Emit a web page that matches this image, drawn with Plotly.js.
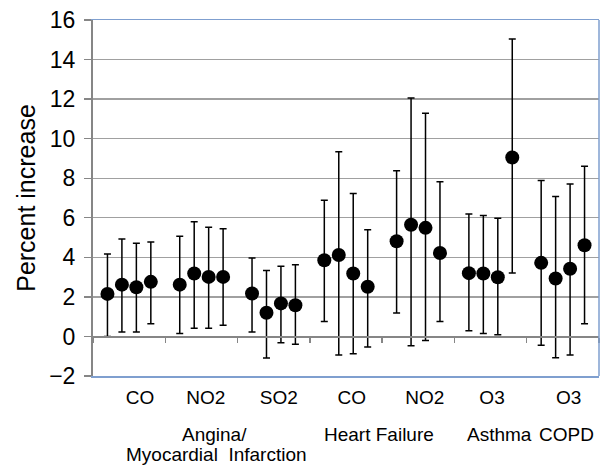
<!DOCTYPE html>
<html>
<head>
<meta charset="utf-8">
<script src="https://cdn.plot.ly/plotly-3.0.1.min.js"></script>
<style>html,body{margin:0;padding:0;background:#fff;}#chart{width:602px;height:466px;}</style>
</head>
<body>
<div id="chart"></div>
<script>
// Pollutant categories (x-axis labels)
var pollutants = ["CO", "NO2", "SO2", "CO", "NO2", "O3", "O3"];
// Outcome group labels
var outcomes = ["Angina/", "Myocardial  Infarction", "Heart Failure", "Asthma", "COPD"];
// Four estimates per category (percent increase), with lower / upper CI
var estimate = [
  2.15, 2.62, 2.49, 2.76,
  2.62, 3.18, 3.01, 3.01,
  2.17, 1.20, 1.67, 1.58,
  3.85, 4.12, 3.18, 2.51,
  4.81, 5.65, 5.49, 4.22,
  3.20, 3.18, 2.99, 9.05,
  3.72, 2.93, 3.42, 4.61
];
var lower = [
  0.00, 0.22, 0.22, 0.64,
  0.15, 0.42, 0.42, 0.57,
  0.22, -1.09, -0.32, -0.39,
  0.76, -0.94, -0.87, -0.54,
  1.18, -0.47, -0.20, 0.76,
  0.29, 0.15, 0.08, 3.21,
  -0.45, -1.08, -0.94, 0.64
];
var upper = [
  4.17, 4.93, 4.71, 4.78,
  5.06, 5.80, 5.52, 5.45,
  3.97, 3.33, 3.55, 3.62,
  6.88, 9.34, 7.23, 5.39,
  8.38, 12.05, 11.29, 7.82,
  6.19, 6.11, 5.97, 15.04,
  7.89, 7.07, 7.71, 8.60
];
var yTicks = [-2, 0, 2, 4, 6, 8, 10, 12, 14, 16];

var perGroup = 4;
var xs = [], errPlus = [], errMinus = [];
for (var i = 0; i < estimate.length; i++) {
  var g = Math.floor(i / perGroup), k = i % perGroup;
  xs.push(g + (k + 1) / (perGroup + 1));
  errPlus.push(upper[i] - estimate[i]);
  errMinus.push(estimate[i] - lower[i]);
}

var font = "Liberation Sans, Arial, sans-serif";
var frameBlue = "#7f9fcf";
var grey = "#868686";

var traces = [
  {
    type: "scatter", mode: "markers", x: xs, y: estimate,
    marker: {color: "#000", size: 14},
    error_y: {type: "data", symmetric: false, array: errPlus, arrayminus: errMinus,
              color: "#000", thickness: 1.5, width: 3.5},
    hoverinfo: "skip", showlegend: false
  },
  {type: "scatter", mode: "markers", x: [], y: [], xaxis: "x2", yaxis: "y", showlegend: false, hoverinfo: "skip"}
];

var labelPos = [0.65, 1.56, 2.57, 3.58, 4.59, 5.52, 6.58];
var boundaries = [0, 1, 2, 3, 4, 5, 6, 7];

var layout = {
  width: 602, height: 466,
  margin: {l: 93, r: 3, t: 20, b: 90},
  paper_bgcolor: "#fff", plot_bgcolor: "#fff",
  font: {family: font, color: "#000"},
  showlegend: false,
  xaxis: {
    type: "linear", range: [0, 7], fixedrange: true,
    tickmode: "array", tickvals: labelPos, ticktext: pollutants,
    ticks: "", showgrid: false, zeroline: false,
    showline: true, linecolor: frameBlue, linewidth: 1.5, mirror: true,
    tickfont: {family: font, size: 19, color: "#000"},
    ticklabelstandoff: 4
  },
  xaxis2: {
    type: "linear", range: [0, 7], overlaying: "x", anchor: "free",
    position: 2 / 18, side: "bottom",
    tickmode: "array", tickvals: boundaries, showticklabels: false,
    ticks: "outside", ticklen: 5, tickwidth: 1.3, tickcolor: grey,
    showgrid: false, zeroline: false,
    showline: true, linecolor: grey, linewidth: 1.5
  },
  yaxis: {
    range: [-2, 16], fixedrange: true,
    tickmode: "array", tickvals: yTicks,
    ticks: "outside", ticklen: 7, tickwidth: 1.3, tickcolor: grey,
    showline: true, linecolor: grey, linewidth: 2,
    showgrid: true, gridcolor: "#a0a0a0", gridwidth: 1.3,
    zeroline: false,
    tickfont: {family: font, size: 23, color: "#000"},
    ticklabelstandoff: 4,
    title: {text: "Percent increase", font: {family: font, size: 25, color: "#000"}, standoff: 6}
  },
  shapes: [
    {type: "line", xref: "paper", yref: "paper", x0: 1, x1: 1, y0: 0, y1: 1,
     line: {color: frameBlue, width: 1.5}}
  ],
  annotations: [
    {text: outcomes[0], x: 1.68, xref: "x", y: 0, yref: "paper", yshift: -58, yanchor: "middle", xanchor: "center", showarrow: false, font: {family: font, size: 19}},
    {text: outcomes[1], x: 1.71, xref: "x", y: 0, yref: "paper", yshift: -78, yanchor: "middle", xanchor: "center", showarrow: false, font: {family: font, size: 19}},
    {text: outcomes[2], x: 3.96, xref: "x", y: 0, yref: "paper", yshift: -58, yanchor: "middle", xanchor: "center", showarrow: false, font: {family: font, size: 19}},
    {text: outcomes[3], x: 5.62, xref: "x", y: 0, yref: "paper", yshift: -58, yanchor: "middle", xanchor: "center", showarrow: false, font: {family: font, size: 19}},
    {text: outcomes[4], x: 6.55, xref: "x", y: 0, yref: "paper", yshift: -58, yanchor: "middle", xanchor: "center", showarrow: false, font: {family: font, size: 19}}
  ]
};

Plotly.newPlot("chart", traces, layout, {staticPlot: true, displayModeBar: false});
</script>
</body>
</html>
